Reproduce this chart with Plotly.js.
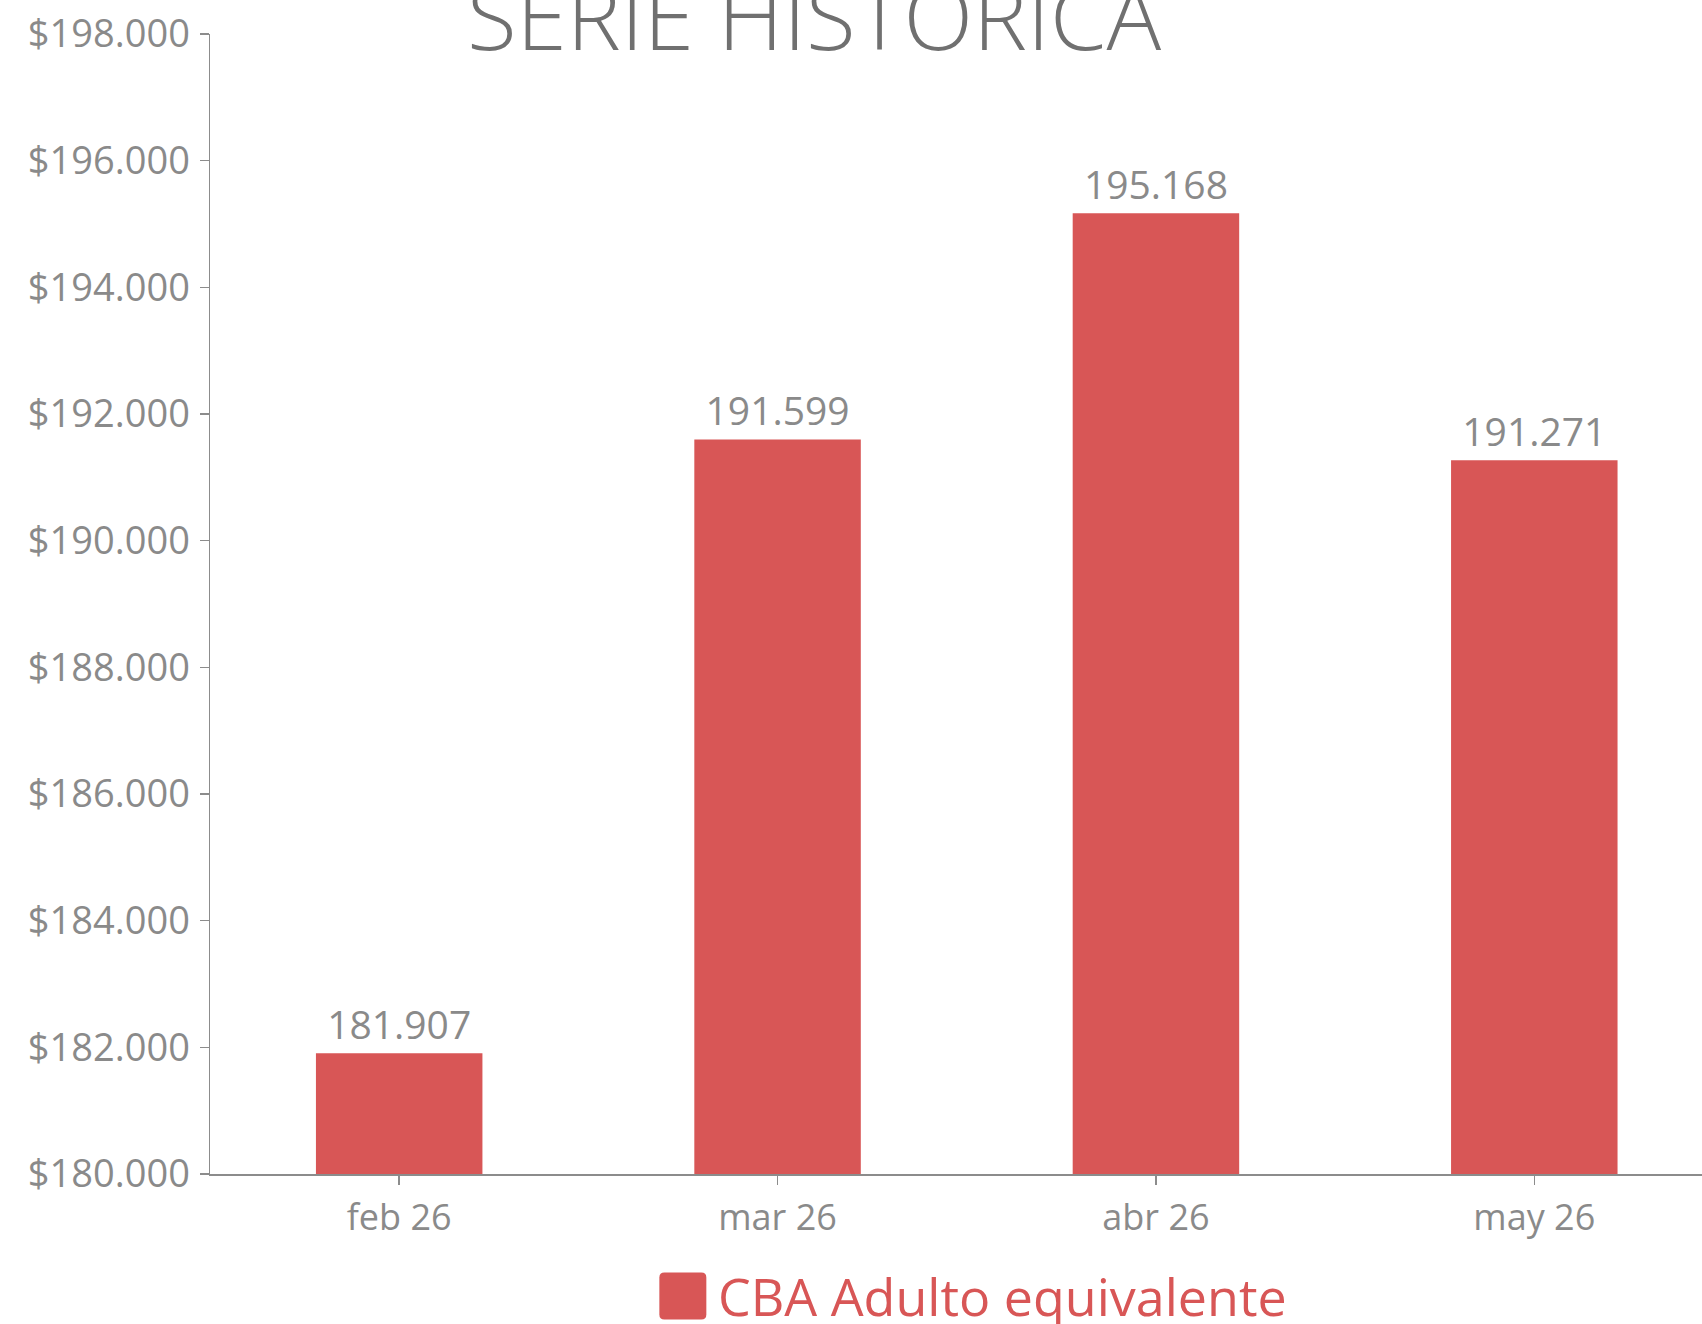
<!DOCTYPE html>
<html>
<head>
<meta charset="utf-8">
<script src="https://cdn.plot.ly/plotly-3.0.1.min.js"></script>
<style>
  html, body { margin: 0; padding: 0; background: #ffffff; }
  #chart { width: 1702px; height: 1324px; }
</style>
</head>
<body>
<div id="chart"></div>
<script>
// ---- data ----
const chartTitle = "SERIE HISTORICA";
const seriesName = "CBA Adulto equivalente";
const months = ["feb 26", "mar 26", "abr 26", "may 26"];
const cbaValues = [181907, 191599, 195168, 191271];
const yTickValues = [180000, 182000, 184000, 186000, 188000, 190000, 192000, 194000, 196000, 198000];

// ---- style ----
const barColor = "#d85656";
const grayText = "#8a8a8a";
const axisGray = "#8c8c8c";
const fontFamily = "Open Sans, Lato, sans-serif";

const W = 1702, H = 1324;
const mL = 209.5, mR = 0, mT = 33.6, mB = 149.5;
const plotW = W - mL - mR, plotH = H - mT - mB;
function px2paperX(px) { return (px - mL) / plotW; }
function px2paperY(py) { return (H - mB - py) / plotH; }

// legend swatch (rounded square) geometry in pixels
const sw = {x0: 659, x1: 706, y0: 1273, y1: 1320, r: 5};
function roundedRectPath(b) {
  const x0 = px2paperX(b.x0), x1 = px2paperX(b.x1);
  const yT = px2paperY(b.y0), yB = px2paperY(b.y1);
  const rx = b.r / plotW, ry = b.r / plotH;
  return `M${x0 + rx},${yT} L${x1 - rx},${yT} Q${x1},${yT} ${x1},${yT - ry} ` +
         `L${x1},${yB + ry} Q${x1},${yB} ${x1 - rx},${yB} ` +
         `L${x0 + rx},${yB} Q${x0},${yB} ${x0},${yB + ry} ` +
         `L${x0},${yT - ry} Q${x0},${yT} ${x0 + rx},${yT} Z`;
}

const trace = {
  type: "bar",
  x: months,
  y: cbaValues,
  name: seriesName,
  width: 0.44,
  marker: { color: barColor, line: { width: 0 } },
  texttemplate: "%{y:,.0f}",
  textposition: "outside",
  constraintext: "none",
  cliponaxis: false,
  textfont: { family: fontFamily, size: 39, color: grayText },
  hoverinfo: "x+y",
  showlegend: false
};

const layout = {
  width: W,
  height: H,
  separators: ",.",
  paper_bgcolor: "#ffffff",
  plot_bgcolor: "#ffffff",
  margin: { l: mL, r: mR, t: mT, b: mB, pad: 0 },
  font: { family: fontFamily, color: grayText },
  title: {
    text: chartTitle,
    xref: "container",
    x: 814 / W,
    xanchor: "center",
    yref: "container",
    y: 1 - 18 / H,
    yanchor: "middle",
    font: { family: fontFamily, size: 91, color: "#707070", weight: 300 }
  },
  showlegend: false,
  xaxis: {
    type: "category",
    range: [-0.5, -0.5 + plotW / 378.5],
    showgrid: false,
    zeroline: false,
    showline: true,
    linecolor: axisGray,
    linewidth: 2,
    ticks: "outside",
    ticklen: 9,
    tickwidth: 1.5,
    tickcolor: axisGray,
    ticklabelstandoff: 2,
    tickfont: { family: fontFamily, size: 36, color: grayText }
  },
  yaxis: {
    range: [180000, 198000],
    tickmode: "array",
    tickvals: yTickValues,
    tickformat: "$,.0f",
    showgrid: false,
    zeroline: false,
    showline: true,
    linecolor: axisGray,
    linewidth: 1.5,
    ticks: "outside",
    ticklen: 9,
    tickwidth: 1.5,
    tickcolor: axisGray,
    ticklabelstandoff: 2,
    tickfont: { family: fontFamily, size: 38, color: grayText }
  },
  shapes: [{
    type: "path",
    xref: "paper",
    yref: "paper",
    path: roundedRectPath(sw),
    fillcolor: barColor,
    line: { width: 0 }
  }],
  annotations: [{
    text: seriesName,
    xref: "paper",
    yref: "paper",
    x: px2paperX(716),
    y: px2paperY(1296),
    xanchor: "left",
    yanchor: "middle",
    showarrow: false,
    font: { family: fontFamily, size: 52, color: barColor }
  }]
};

Plotly.newPlot("chart", [trace], layout, { displayModeBar: false, staticPlot: true });
</script>
</body>
</html>
